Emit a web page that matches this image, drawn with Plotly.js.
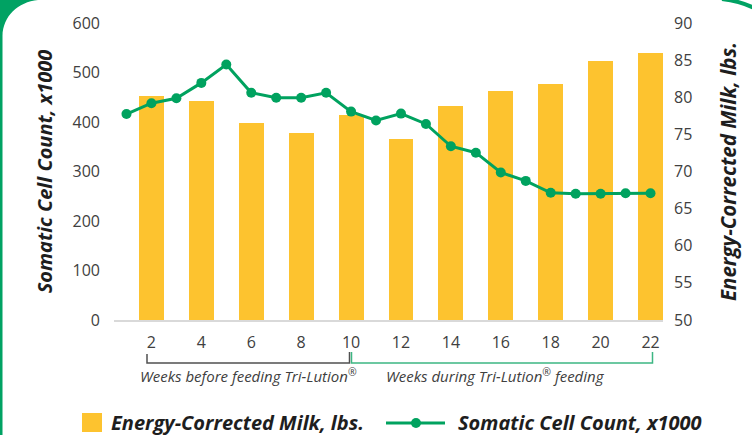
<!DOCTYPE html>
<html>
<head>
<meta charset="utf-8">
<script src="https://cdn.plot.ly/plotly-3.0.1.min.js"></script>
<style>
  html, body { margin: 0; padding: 0; background: #ffffff; }
  #wrap { position: relative; width: 752px; height: 435px; overflow: hidden; }
  #frame { position: absolute; left: 0; top: 0; }
  #chart { position: absolute; left: 0; top: 0; width: 752px; height: 435px; }
</style>
</head>
<body>
<div id="wrap">
  <svg id="frame" width="752" height="435">
    <path d="M0,0 L38,0 C18,2 3,16 2.5,36 L2.5,435 L0,435 Z" fill="#00a263"/>
    <path d="M722,-1 Q740,1 754,8" stroke="#00a263" stroke-width="4" fill="none"/>
  </svg>
  <div id="chart"></div>
</div>
<script>
// ---- data ----
var sccWeeks = [1,2,3,4,5,6,7,8,9,10,11,12,13,14,15,16,17,18,19,20,21,22];
var sccValues = [416,438,448,479,516,459,449,449,459,421,403,417,396,351,338,298,281,257,255,255,256,256];
var milkWeeks = [2,4,6,8,10,12,14,16,18,20,22];
var milkValues = [80.2,79.5,76.6,75.2,77.6,74.4,78.8,80.8,81.8,84.9,86.0];
var xTickVals = [2,4,6,8,10,12,14,16,18,20,22];
var xTickText = ["2","4","6","8","10","12","14","16","18","20","22"];
var sccName = "Somatic Cell Count, x1000";
var milkName = "Energy-Corrected Milk, lbs.";
var beforeLabel = "Weeks before feeding Tri-Lution<sup>®</sup>";
var duringLabel = "Weeks during Tri-Lution<sup>®</sup> feeding";

var yellow = "#fdc32f";
var green = "#00a25f";
var bracketGreen = "#3db683";
var bracketDark = "#505050";
var FONT = "Open Sans, sans-serif";

var traces = [
  {
    type: "bar",
    name: milkName,
    x: milkWeeks,
    y: milkValues,
    yaxis: "y",
    width: 1.0,
    marker: { color: yellow },
    showlegend: false,
    hoverinfo: "x+y"
  },
  {
    type: "scatter",
    mode: "lines+markers",
    name: sccName,
    x: sccWeeks,
    y: sccValues,
    yaxis: "y2",
    line: { color: green, width: 3 },
    marker: { color: green, size: 10 },
    showlegend: false
  }
];

function px2x(p) { return (p - 114) / 549; }
function py2y(p) { return (320 - p) / 297; }

var layout = {
  width: 752,
  height: 435,
  margin: { l: 114, r: 89, t: 23, b: 115 },
  paper_bgcolor: "rgba(0,0,0,0)",
  plot_bgcolor: "rgba(0,0,0,0)",
  font: { family: FONT, color: "#404040", size: 16 },
  showlegend: false,
  bargap: 0,
  xaxis: {
    range: [0.5, 22.5],
    tickvals: xTickVals,
    ticktext: xTickText,
    showgrid: false,
    zeroline: false,
    showline: true,
    linecolor: "#d9d9d9",
    linewidth: 1.5,
    ticks: "",
    ticklabelstandoff: 7,
    tickfont: { family: FONT, size: 16, color: "#404040" }
  },
  yaxis: {
    side: "right",
    range: [50, 90],
    tickvals: [50,55,60,65,70,75,80,85,90],
    showgrid: false,
    zeroline: false,
    showline: false,
    ticks: "",
    ticklabelstandoff: 10,
    tickfont: { family: FONT, size: 16, color: "#404040" },
    title: {
      text: "<b><i>" + milkName + "</i></b>",
      font: { family: FONT, size: 20.5, color: "#1e1e1e" },
      standoff: 30
    }
  },
  yaxis2: {
    overlaying: "y",
    side: "left",
    range: [0, 600],
    tickvals: [0,100,200,300,400,500,600],
    showgrid: false,
    zeroline: false,
    showline: false,
    ticks: "",
    ticklabelstandoff: 13,
    tickfont: { family: FONT, size: 16, color: "#404040" },
    title: {
      text: "<b><i>" + sccName + "</i></b>",
      font: { family: FONT, size: 20, color: "#1e1e1e" },
      standoff: 14
    }
  },
  shapes: [
    // bracket: before feeding
    { type: "path", xref: "paper", yref: "paper",
      path: "M" + px2x(147) + "," + py2y(354) + " L" + px2x(147) + "," + py2y(363) +
            " L" + px2x(349.5) + "," + py2y(363) + " L" + px2x(349.5) + "," + py2y(352),
      line: { color: bracketDark, width: 1.5 } },
    // bracket: during feeding
    { type: "path", xref: "paper", yref: "paper",
      path: "M" + px2x(351.5) + "," + py2y(352) + " L" + px2x(351.5) + "," + py2y(363) +
            " L" + px2x(652.5) + "," + py2y(363) + " L" + px2x(652.5) + "," + py2y(352),
      line: { color: bracketGreen, width: 1.5 } },
    // legend swatch: milk
    { type: "rect", xref: "paper", yref: "paper",
      x0: px2x(82), x1: px2x(102), y0: py2y(413), y1: py2y(432),
      fillcolor: yellow, line: { width: 0 } },
    // legend swatch: scc line
    { type: "line", xref: "paper", yref: "paper",
      x0: px2x(386), x1: px2x(445), y0: py2y(423), y1: py2y(423),
      line: { color: green, width: 3 } },
    { type: "circle", xref: "paper", yref: "paper",
      xsizemode: "pixel", ysizemode: "pixel",
      xanchor: px2x(416), yanchor: py2y(423),
      x0: -5, x1: 5, y0: -5, y1: 5,
      fillcolor: green, line: { width: 0 } }
  ],
  annotations: [
    { xref: "paper", yref: "paper", x: px2x(248), y: py2y(375),
      text: "<i>" + beforeLabel + "</i>", showarrow: false,
      xanchor: "center", yanchor: "middle",
      font: { family: FONT, size: 15, color: "#404040" } },
    { xref: "paper", yref: "paper", x: px2x(495), y: py2y(375),
      text: "<i>" + duringLabel + "</i>", showarrow: false,
      xanchor: "center", yanchor: "middle",
      font: { family: FONT, size: 15, color: "#404040" } },
    { xref: "paper", yref: "paper", x: px2x(109), y: py2y(422),
      text: "<b><i>" + milkName + "</i></b>", showarrow: false,
      xanchor: "left", yanchor: "middle",
      font: { family: FONT, size: 20, color: "#1e1e1e" } },
    { xref: "paper", yref: "paper", x: px2x(456), y: py2y(422),
      text: "<b><i>" + sccName + "</i></b>", showarrow: false,
      xanchor: "left", yanchor: "middle",
      font: { family: FONT, size: 20, color: "#1e1e1e" } }
  ]
};

Plotly.newPlot("chart", traces, layout, { displayModeBar: false, staticPlot: true });
</script>
</body>
</html>
